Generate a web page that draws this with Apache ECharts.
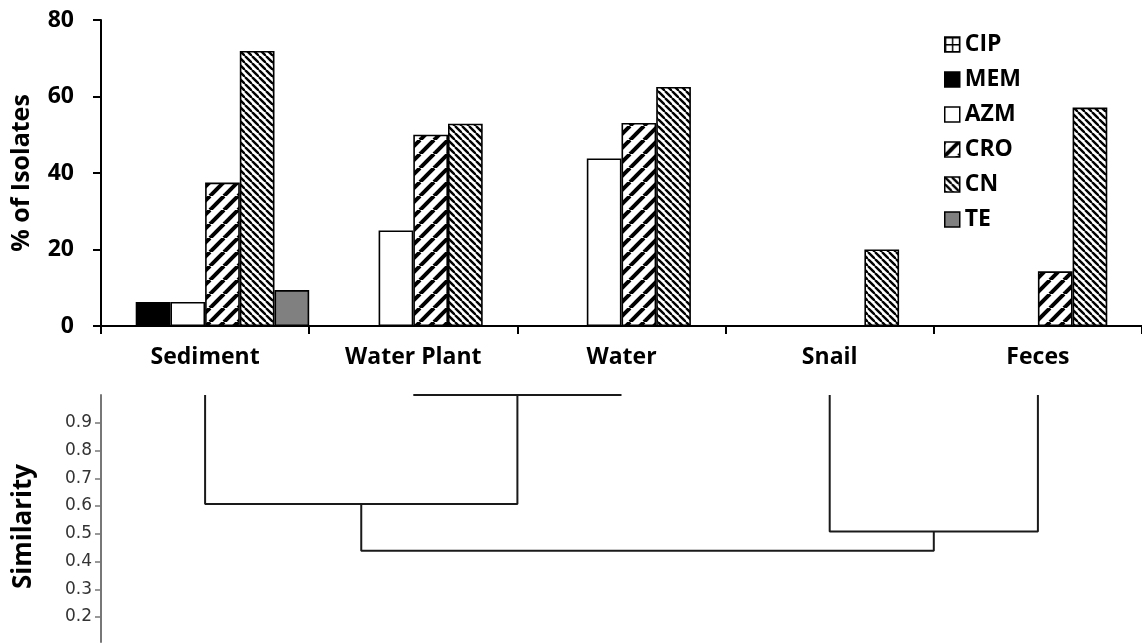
<!DOCTYPE html>
<html>
<head>
<meta charset="utf-8">
<script src="https://cdn.jsdelivr.net/npm/echarts@6/dist/echarts.min.js"></script>
<style>html,body{margin:0;padding:0;background:#fff}#c{width:1142px;height:643px}</style>
</head>
<body>
<div id="c"></div>
<script>
// ---- data ----
const categories = ['Sediment', 'Water Plant', 'Water', 'Snail', 'Feces'];
const seriesNames = ['CIP', 'MEM', 'AZM', 'CRO', 'CN', 'TE'];
const CIP = [0, 0, 0, 0, 0];
const MEM = [6.3, 0, 0, 0, 0];
const AZM = [6.3, 25, 43.8, 0, 0];
const CRO = [37.5, 50, 53.1, 0, 14.3];
const CN  = [71.9, 52.9, 62.5, 20, 57.1];
const TE  = [9.4, 0, 0, 0, 0];
const percentTicks = [0, 20, 40, 60, 80];
const similarityTicks = [0.2, 0.3, 0.4, 0.5, 0.6, 0.7, 0.8, 0.9];
// dendrogram: nodes 0..4 are leaves, merge k creates node 5+k
const mergeA = [1, 0, 3, 5 + 1];
const mergeB = [2, 5 + 0, 4, 5 + 2];
const mergeSim = [1.0, 0.607, 0.508, 0.439];
const leafSim = 1.0;

// ---- patterns ----
function stripes(period, lw, dir) {
  const c = document.createElement('canvas');
  c.width = c.height = period;
  const g = c.getContext('2d');
  g.fillStyle = '#fff'; g.fillRect(0, 0, period, period);
  g.strokeStyle = '#000'; g.lineWidth = lw;
  for (let k = -1; k <= 1; k++) {
    g.beginPath();
    if (dir === '/') { g.moveTo(k * period, period); g.lineTo(k * period + period, 0); }
    else { g.moveTo(k * period, 0); g.lineTo(k * period + period, period); }
    g.stroke();
  }
  return { image: c, repeat: 'repeat' };
}
function gridPat(p) {
  const c = document.createElement('canvas');
  c.width = c.height = p;
  const g = c.getContext('2d');
  g.fillStyle = '#fff'; g.fillRect(0, 0, p, p);
  g.fillStyle = '#000'; g.fillRect(0, 0, p, 1.5); g.fillRect(0, 0, 1.5, p);
  return { image: c, repeat: 'repeat' };
}
const fills = {
  CIP: gridPat(7),
  MEM: '#000',
  AZM: '#fff',
  CRO: stripes(14, 4, '/'),
  CN: stripes(7, 2.4, '\\'),
  TE: '#808080'
};
const values = { CIP, MEM, AZM, CRO, CN, TE };

const FONT = 'Open Sans';
const chart = echarts.init(document.getElementById('c'), null, { renderer: 'canvas' });

const barSeries = seriesNames.map(n => ({
  name: n, type: 'bar', xAxisIndex: 0, yAxisIndex: 0,
  data: values[n], barGap: '0%', barCategoryGap: '0%',
  itemStyle: { color: fills[n], borderColor: '#000', borderWidth: 1.6 },
  silent: true, animation: false
}));

// dendrogram node positions
const nodeX = [], nodeY = [];
categories.forEach((c, i) => { nodeX[i] = i + 0.5; nodeY[i] = leafSim; });
const dendroSeries = mergeSim.map((s, k) => {
  const a = mergeA[k], b = mergeB[k];
  nodeX[5 + k] = (nodeX[a] + nodeX[b]) / 2; nodeY[5 + k] = s;
  return {
    type: 'line', xAxisIndex: 1, yAxisIndex: 1, silent: true, animation: false,
    showSymbol: false, symbol: 'none', clip: false,
    lineStyle: { color: '#1a1a1a', width: 2 },
    data: [[nodeX[a], nodeY[a]], [nodeX[a], s], [nodeX[b], s], [nodeX[b], nodeY[b]]]
  };
});

chart.setOption({
  animation: false,
  backgroundColor: '#fff',
  textStyle: { fontFamily: FONT },
  legend: {
    data: seriesNames, orient: 'vertical', left: 939, top: 28,
    icon: 'rect', itemWidth: 15, itemHeight: 15, itemGap: 12,
    itemStyle: { borderColor: '#000', borderWidth: 1.5 },
    textStyle: { fontFamily: FONT, fontWeight: 'bold', fontSize: 23, lineHeight: 22, color: '#000' },
    selectedMode: false
  },
  grid: [
    { left: 101, right: 0, top: 20, bottom: 317, containLabel: false, outerBoundsMode: 'none' },
    { left: 101, right: 0, top: 395, bottom: 1, containLabel: false, outerBoundsMode: 'none' }
  ],
  xAxis: [
    {
      type: 'category', gridIndex: 0, data: categories,
      axisLine: { lineStyle: { color: '#000', width: 2 } },
      axisTick: { show: true, length: 8, lineStyle: { color: '#000', width: 2 } },
      axisLabel: { fontFamily: FONT, fontWeight: 'bold', fontSize: 23, color: '#000', margin: 20 }
    },
    { type: 'value', gridIndex: 1, min: 0, max: 5, show: false }
  ],
  yAxis: [
    {
      type: 'value', gridIndex: 0, min: 0, max: 80, interval: 20,
      name: '% of Isolates', nameLocation: 'middle', nameGap: 67,
      nameTextStyle: { fontFamily: FONT, fontWeight: 'bold', fontSize: 25, color: '#000' },
      axisLine: { show: true, lineStyle: { color: '#000', width: 2 } },
      axisTick: { show: true, length: 8, lineStyle: { color: '#000', width: 2 } },
      axisLabel: { fontFamily: FONT, fontWeight: 'bold', fontSize: 23, color: '#000', margin: 27,
        formatter: v => percentTicks.includes(v) ? String(v) : '' },
      splitLine: { show: false }
    },
    {
      type: 'value', gridIndex: 1, min: 0.11, max: 1.0,
      name: 'Similarity', nameLocation: 'middle', nameGap: 64,
      nameTextStyle: { fontFamily: FONT, fontWeight: 'bold', fontSize: 26, color: '#000', padding: [0, 16, 0, 0] },
      axisLine: { show: true, lineStyle: { color: '#777', width: 2 } },
      axisTick: { show: true, length: 6, customValues: similarityTicks, lineStyle: { color: '#777', width: 1.5 } },
      axisLabel: { fontFamily: 'DejaVu Sans', fontSize: 17, color: '#333', margin: 9,
        customValues: similarityTicks, formatter: v => v.toFixed(1) },
      splitLine: { show: false }
    }
  ],
  series: [...barSeries, ...dendroSeries]
});
</script>
</body>
</html>
